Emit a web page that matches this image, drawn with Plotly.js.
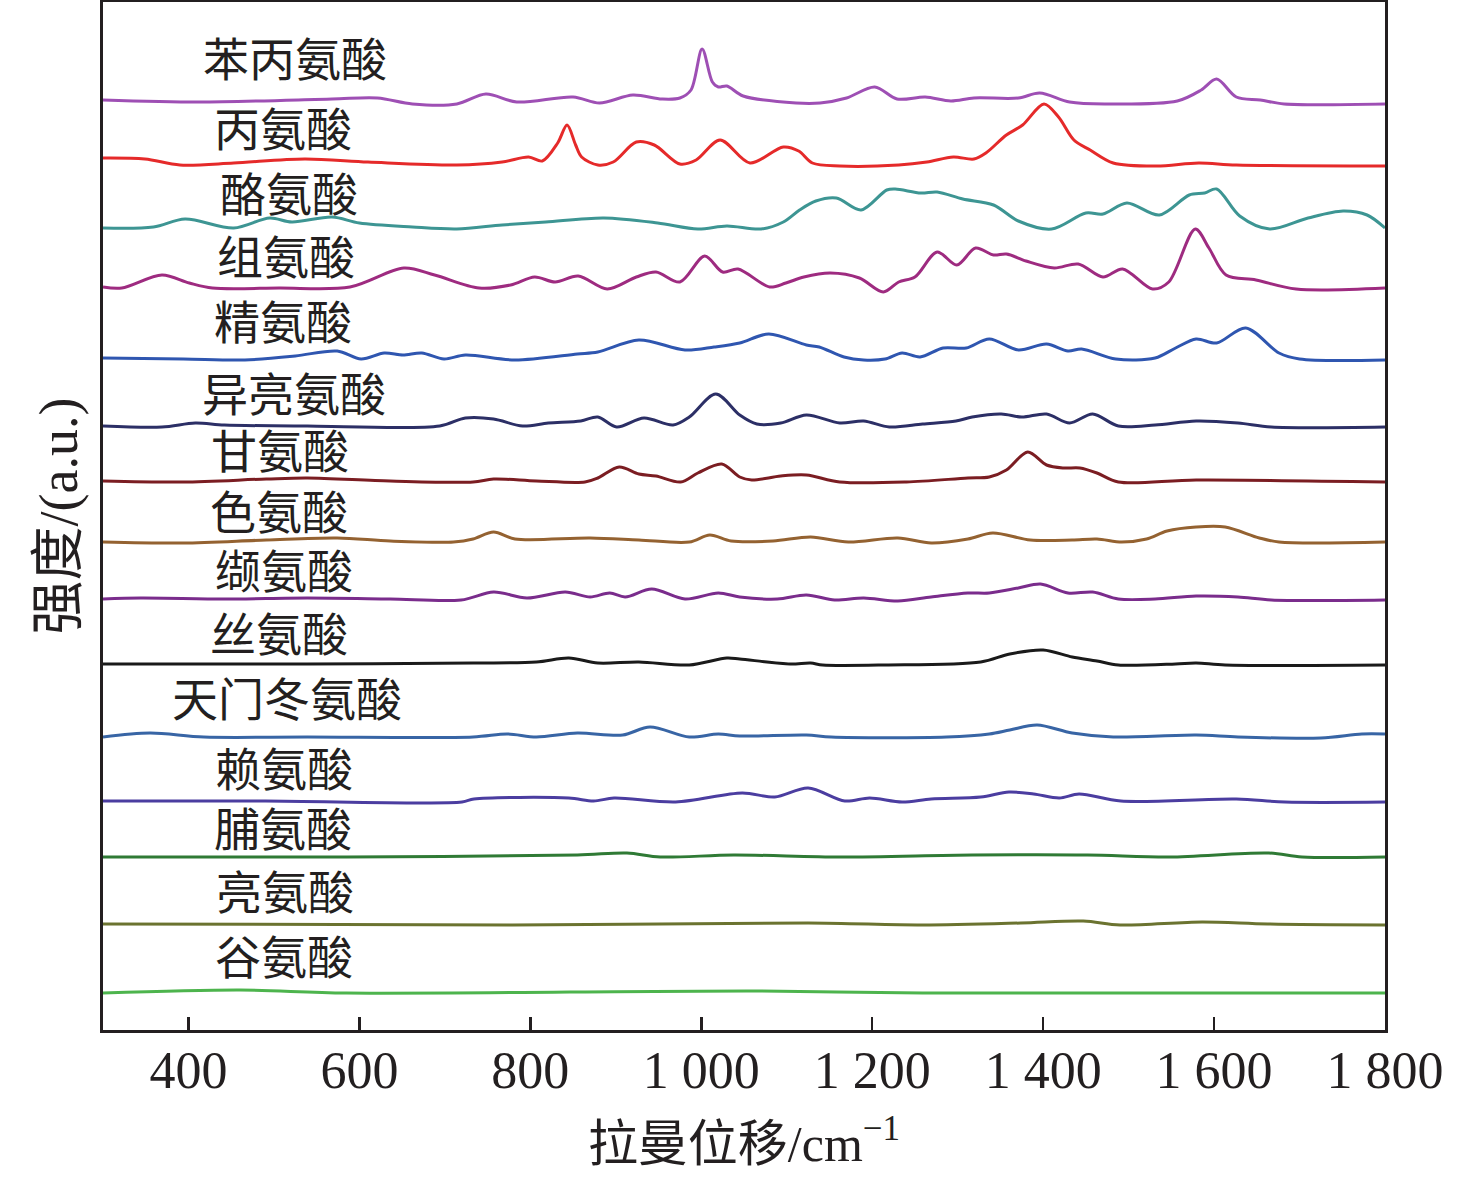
<!DOCTYPE html>
<html>
<head>
<meta charset="utf-8">
<script src="https://cdn.plot.ly/plotly-3.0.1.min.js"></script>
<style>html,body{margin:0;padding:0;background:#fff;}#chart{width:1476px;height:1183px;}</style>
</head>
<body>
<div id="chart"></div>
<script>
// ---- data ----
const waveTicks = [400, 600, 800, 1000, 1200, 1400, 1600, 1800];
const waveTickLabels = ['400', '600', '800', '1 000', '1 200', '1 400', '1 600', '1 800'];

const names = ['苯丙氨酸', '丙氨酸', '酪氨酸', '组氨酸', '精氨酸', '异亮氨酸', '甘氨酸', '色氨酸',
  '缬氨酸', '丝氨酸', '天门冬氨酸', '赖氨酸', '脯氨酸', '亮氨酸', '谷氨酸'];
const offsets = [928, 865, 802, 742, 671, 604, 548, 488, 431, 366, 293, 229, 173, 105, 37];

const pheWN = [300, 413, 568, 621, 662, 714, 748, 784, 850, 881, 920, 954, 975, 988, 1001, 1013, 1020, 1030, 1049, 1111, 1139, 1170, 1203, 1229, 1262, 1292, 1319, 1371, 1396, 1431, 1472, 1557, 1585, 1603, 1626, 1654, 1682, 1800];
const pheI = [2, 0, 3, 4, -2, -2, 8, 0, 5, -1, 7, 3, 4, 12, 53, 20, 15, 16, 6, -1, -1, 4, 15, 3, 5, 1, 4, 4, 9, 0, -2, 1, 12, 23, 5, 2, -2, -2];

const alaWN = [300, 349, 390, 453, 536, 610, 714, 767, 798, 814, 832, 843, 853, 860, 879, 897, 924, 945, 975, 994, 1022, 1057, 1096, 1114, 1130, 1162, 1231, 1264, 1295, 1319, 1333, 1357, 1376, 1401, 1418, 1436, 1455, 1482, 1533, 1582, 1626, 1800];
const alaI = [7, 6, 0, 2, 6, 3, 0, 3, 8, 4, 22, 40, 20, 8, 0, 3, 23, 20, 1, 5, 25, 2, 18, 14, 2, -1, 0, 3, 8, 6, 12, 30, 40, 61, 48, 25, 15, 2, -1, 2, 0, -1];

const tyrWN = [300, 359, 396, 453, 495, 521, 568, 600, 662, 714, 767, 818, 886, 949, 996, 1030, 1070, 1096, 1115, 1134, 1158, 1187, 1217, 1227, 1257, 1276, 1306, 1342, 1371, 1410, 1450, 1470, 1498, 1536, 1571, 1589, 1603, 1630, 1665, 1710, 1751, 1779, 1800];
const tyrI = [0, 1, 9, 0, 10, 6, 11, 5, 1, -1, 3, 6, 10, 5, -1, 2, -1, 6, 18, 27, 30, 18, 38, 39, 35, 36, 29, 23, 7, -1, 15, 14, 25, 13, 33, 35, 39, 12, -1, 10, 17, 13, 0];

const hisWN = [300, 322, 369, 401, 428, 506, 589, 652, 688, 740, 777, 805, 829, 856, 890, 924, 947, 975, 1004, 1025, 1043, 1080, 1099, 1120, 1151, 1185, 1213, 1231, 1250, 1276, 1299, 1321, 1342, 1357, 1380, 1413, 1441, 1470, 1493, 1528, 1547, 1578, 1594, 1614, 1649, 1696, 1800];
const hisI = [1, 0, 13, 5, 0, 0, 1, 20, 13, 0, 3, 11, 6, 12, -1, 11, 16, 6, 32, 16, 19, 1, 5, 11, 15, 10, -4, 6, 11, 36, 23, 40, 33, 34, 27, 20, 24, 11, 19, -1, 6, 59, 40, 13, 8, -1, 0];

const argWN = [300, 394, 466, 525, 574, 602, 629, 651, 673, 699, 724, 782, 855, 879, 927, 981, 1015, 1045, 1079, 1123, 1138, 1167, 1190, 1215, 1235, 1256, 1283, 1310, 1337, 1371, 1404, 1429, 1445, 1485, 1531, 1555, 1579, 1603, 1637, 1676, 1700, 1800];
const argI = [1, 0, -1, 3, 8, 0, 6, 4, 6, 0, 4, -1, 5, 7, 19, 9, 12, 16, 25, 14, 12, 2, -1, 0, 6, 2, 11, 11, 20, 9, 15, 8, 10, 0, 1, 11, 20, 16, 31, 6, 0, -1];

const ileWN = [300, 369, 408, 442, 539, 694, 724, 757, 791, 821, 859, 879, 901, 933, 967, 986, 1017, 1045, 1065, 1093, 1123, 1162, 1190, 1220, 1259, 1298, 1317, 1351, 1375, 1404, 1431, 1458, 1488, 1531, 1579, 1628, 1667, 1800];
const ileI = [0, -1, 3, 1, 0, 0, 8, 7, 0, 3, 5, 9, -1, 8, 1, 9, 32, 11, 2, 3, 11, 3, 5, -1, 2, 5, 9, 12, 9, 12, 3, 12, 0, 1, 5, 3, -1, -1];

const glyWN = [300, 394, 491, 539, 636, 733, 757, 807, 864, 879, 904, 927, 947, 976, 996, 1024, 1045, 1059, 1093, 1123, 1162, 1240, 1312, 1337, 1357, 1382, 1404, 1424, 1443, 1463, 1488, 1579, 1800];
const glyI = [1, 0, 3, 4, 1, 0, 3, 1, 0, 4, 15, 8, 6, 0, 9, 18, 5, 2, 6, 7, 0, 0, 4, 5, 12, 30, 17, 14, 14, 9, 0, 2, 0];

const trpWN = [300, 394, 491, 574, 636, 710, 733, 757, 782, 870, 927, 986, 1010, 1035, 1084, 1128, 1172, 1230, 1269, 1312, 1341, 1385, 1434, 1463, 1492, 1521, 1545, 1579, 1613, 1653, 1676, 1800];
const trpI = [0, -1, 2, 4, 1, 0, 3, 10, 3, 4, 2, 0, 7, 1, 1, 5, 0, 4, -1, 3, 9, 2, 2, 3, 0, 3, 11, 15, 15, 4, 0, 0];

const valWN = [300, 344, 442, 539, 636, 719, 757, 796, 841, 870, 893, 911, 942, 981, 1020, 1045, 1089, 1123, 1156, 1190, 1230, 1269, 1312, 1337, 1371, 1397, 1429, 1458, 1488, 1531, 1579, 1628, 1667, 1800];
const valI = [0, 1, 0, 1, 0, -1, 7, 1, 7, 2, 6, 2, 10, 0, 6, 2, 0, 4, -1, 1, -2, 2, 6, 6, 11, 15, 6, 7, 0, 0, 3, 2, -1, -1];

const serWN = [300, 539, 733, 807, 845, 879, 927, 986, 1030, 1045, 1104, 1128, 1142, 1215, 1327, 1361, 1400, 1434, 1463, 1488, 1555, 1579, 1613, 1800];
const serI = [0, 0, 1, 2, 6, 1, 2, -1, 6, 5, 0, 1, -1, -1, 2, 10, 14, 7, 3, -1, 0, 1, -1, -1];

const aspWN = [300, 355, 418, 539, 733, 773, 807, 855, 908, 940, 986, 1020, 1045, 1123, 1152, 1287, 1337, 1361, 1393, 1434, 1482, 1579, 1628, 1725, 1773, 1800];
const aspI = [0, 4, 0, 0, 0, 3, 0, 4, 2, 10, 0, 3, 1, 2, 0, 0, 3, 7, 12, 4, 0, 2, 0, -1, 3, 3];

const lysWN = [300, 490, 720, 734, 845, 874, 898, 970, 1048, 1086, 1125, 1168, 1197, 1235, 1269, 1327, 1360, 1389, 1419, 1442, 1491, 1626, 1683, 1800];
const lysI = [0, 0, -1, 2, 3, 0, 3, -1, 8, 4, 13, 0, 3, -1, 2, 4, 9, 7, 3, 7, 0, 2, -1, -1];

const proWN = [300, 585, 855, 913, 952, 1038, 1163, 1317, 1452, 1548, 1664, 1703, 1800];
const proI = [0, 0, 2, 4, 0, 2, 0, 2, 2, 0, 4, 0, 0];

const leuWN = [300, 779, 1125, 1259, 1374, 1447, 1490, 1586, 1663, 1800];
const leuI = [1, 0, 2, 0, 2, 4, 0, 3, 1, 0];

const gluWN = [300, 460, 585, 1066, 1259, 1800];
const gluI = [0, 3, 0, 2, 0, 0];

// ---- styling ----
const colors = ['#9e4fb4', '#e52a2a', '#3d9593', '#9e2b80', '#2f56b0', '#2c2f66', '#7b1d22', '#946231',
  '#7a2c8c', '#1a1a1a', '#3865a5', '#4b3da0', '#2f7a35', '#6b7330', '#4db44d'];
const spectra = [[pheWN, pheI], [alaWN, alaI], [tyrWN, tyrI], [hisWN, hisI], [argWN, argI], [ileWN, ileI],
  [glyWN, glyI], [trpWN, trpI], [valWN, valI], [serWN, serI], [aspWN, aspI], [lysWN, lysI],
  [proWN, proI], [leuWN, leuI], [gluWN, gluI]];
const labelLift = [42, 35, 33, 30, 36, 31, 30, 29, 27, 29, 37, 31, 27, 32, 35];
const labelX = [525, 511, 518, 514, 511, 523, 507, 506, 512, 506, 515, 512, 511, 513, 512];

const traces = spectra.map(function (s, i) {
  return {
    type: 'scatter', mode: 'lines', name: names[i],
    x: s[0], y: s[1].map(function (v) { return v + offsets[i]; }),
    line: { color: colors[i], width: 3, shape: 'spline', smoothing: 0.9 },
    hoverinfo: 'skip'
  };
});

const fontFam = "'Liberation Serif', 'Noto Sans CJK SC', serif";
const annotations = names.map(function (n, i) {
  return {
    text: n, x: labelX[i], y: offsets[i] + labelLift[i], xref: 'x', yref: 'y',
    showarrow: false, xanchor: 'center', yanchor: 'middle',
    font: { family: fontFam, size: 46, color: '#231f20' }
  };
});

const axisColor = '#231f20';
const layout = {
  width: 1476, height: 1183,
  margin: { l: 103, r: 91, t: 2, b: 153 },
  paper_bgcolor: '#ffffff', plot_bgcolor: '#ffffff',
  showlegend: false,
  font: { family: fontFam, color: axisColor },
  xaxis: {
    range: [300, 1800], tickvals: waveTicks, ticktext: waveTickLabels,
    ticks: 'inside', ticklen: 13, tickwidth: 2.5, tickcolor: axisColor,
    showline: true, linewidth: 3, linecolor: axisColor, mirror: true,
    showgrid: false, zeroline: false,
    tickfont: { family: fontFam, size: 52, color: axisColor },
    ticklabelstandoff: -7,
    title: { text: '拉曼位移/cm<sup>−1</sup>', font: { family: fontFam, size: 50, color: axisColor }, standoff: 28 }
  },
  yaxis: {
    range: [0, 1028], showticklabels: false, ticks: '',
    showline: true, linewidth: 3, linecolor: axisColor, mirror: true,
    showgrid: false, zeroline: false,
    title: { text: '强度/(a.u.)', font: { family: fontFam, size: 54, color: axisColor }, standoff: 6 }
  },
  annotations: annotations
};

Plotly.newPlot('chart', traces, layout, { displayModeBar: false, staticPlot: true });
</script>
</body>
</html>
